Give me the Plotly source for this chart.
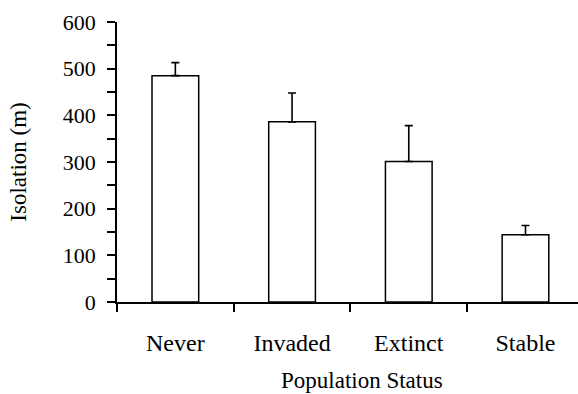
import plotly.graph_objects as go

categories = ["Never", "Invaded", "Extinct", "Stable"]
means = [485, 386, 301, 144]
errors_up = [28, 62, 77, 20]
y_ticks = [0, 100, 200, 300, 400, 500, 600]

FONT = "Liberation Serif"

fig = go.Figure()
fig.add_trace(go.Bar(
    x=categories, y=means, width=0.4,
    marker=dict(color="white", line=dict(color="black", width=1.5)),
    error_y=dict(type="data", symmetric=False, array=errors_up,
                 arrayminus=[0] * len(means), color="black", thickness=1.6, width=4),
))

fig.update_layout(
    width=578, height=394,
    margin=dict(l=117, r=0, t=22, b=92),
    paper_bgcolor="white", plot_bgcolor="white",
    showlegend=False,
    font=dict(family=FONT, color="black"),
    xaxis=dict(
        range=[-0.5, 3.45], showline=True, linecolor="black", linewidth=1.5,
        ticks="outside", tickson="boundaries", ticklen=8, tickwidth=1.5, tickcolor="black",
        tickfont=dict(family=FONT, size=24), ticklabelstandoff=18,
        showgrid=False, zeroline=False,
    ),
    yaxis=dict(
        range=[0, 600], tickvals=y_ticks, showline=True, linecolor="black", linewidth=1.5,
        ticks="outside", ticklen=8, tickwidth=1.5, tickcolor="black",
        minor=dict(dtick=50, ticks="outside", ticklen=8, tickwidth=1.5, tickcolor="black", showgrid=False),
        tickfont=dict(family=FONT, size=22), ticklabelstandoff=7,
        showgrid=False, zeroline=False,
        title=dict(text="Isolation (m)", font=dict(family=FONT, size=23), standoff=30),
    ),
    annotations=[dict(
        text="Population Status", xref="paper", yref="paper",
        x=(361.5 - 117) / 461, y=-(366 - 302) / 280, xanchor="center", yanchor="top",
        showarrow=False, font=dict(family=FONT, size=23),
    )],
)

fig.write_html("out.html")
